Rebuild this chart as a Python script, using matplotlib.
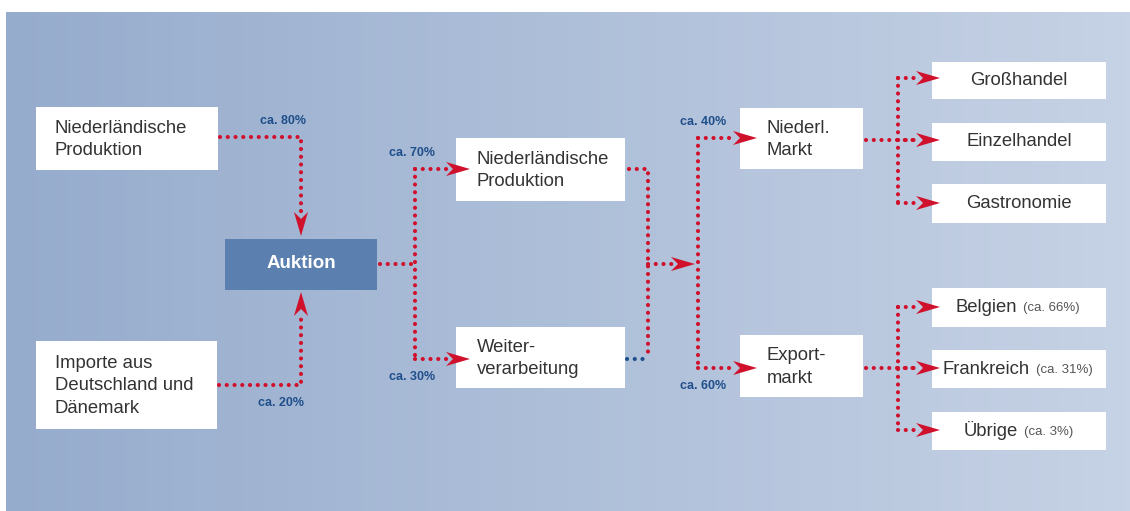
import numpy as np
import matplotlib.pyplot as plt
from matplotlib.patches import Rectangle, Polygon

# node texts
left_nodes = ["Niederländische\nProduktion", "Importe aus\nDeutschland und\nDänemark"]
hub_label = "Auktion"
mid_nodes = ["Niederländische\nProduktion", "Weiter-\nverarbeitung"]
market_nodes = ["Niederl.\nMarkt", "Export-\nmarkt"]
domestic_nodes = ["Großhandel", "Einzelhandel", "Gastronomie"]
export_nodes = ["Belgien", "Frankreich", "Übrige"]
export_shares = ["(ca. 66%)", "(ca. 31%)", "(ca. 3%)"]
left_shares = ["ca. 80%", "ca. 20%"]
mid_shares = ["ca. 70%", "ca. 30%"]
market_shares = ["ca. 40%", "ca. 60%"]

RED = "#d0112b"
BLUE = "#1f4f8a"
TXT = "#333333"

W, H = 1130, 511
fig = plt.figure(figsize=(W / 100, H / 100), dpi=100)
ax = fig.add_axes([0, 0, 1, 1])
ax.set_xlim(0, W)
ax.set_ylim(H, 0)
ax.axis("off")

# background gradient panel
c0 = np.array([150, 172, 205]) / 255
c1 = np.array([198, 210, 229]) / 255
t = np.linspace(0, 1, 256)
grad = c0[None, :] * (1 - t[:, None]) + c1[None, :] * t[:, None]
ax.imshow(grad[None, :, :], extent=[6, W, H, 12], aspect="auto", zorder=0)

FONT = "Liberation Sans"


def box(x0, y0, x1, y1, fc="white"):
    ax.add_patch(Rectangle((x0, y0), x1 - x0, y1 - y0, fc=fc, ec="none", zorder=2))


def dots(xs, ys, color=RED):
    ax.plot(xs, ys, color=color, lw=3.0, linestyle=(0, (0.01, 1.85)),
            dash_capstyle="round", solid_capstyle="round", zorder=3)


def arrow(x, y, d):
    # dart-shaped head, tip at (x, y), direction d
    L, w, n = 24, 7, 17
    dx, dy = d
    px, py = -dy, dx
    pts = [(x, y),
           (x - dx * L + px * w, y - dy * L + py * w),
           (x - dx * n, y - dy * n),
           (x - dx * L - px * w, y - dy * L - py * w)]
    ax.add_patch(Polygon(pts, closed=True, fc=RED, ec="none", zorder=4))


def share(x, y, s, ha="left"):
    ax.text(x, y, s, color=BLUE, fontsize=9, fontweight="bold", family=FONT,
            ha=ha, va="center", zorder=5)


def label(x, y, s, ha="left", size=13.3):
    ax.text(x, y, s, color=TXT, fontsize=size, family=FONT, ha=ha, va="center",
            linespacing=1.45, zorder=5)


# left column
left_boxes = [(36, 107, 218, 170), (36, 341, 217, 429)]
for (x0, y0, x1, y1), s in zip(left_boxes, left_nodes):
    box(x0, y0, x1, y1)
    label(55, (y0 + y1) / 2 + 1, s)

# hub
box(225, 239, 377, 290, fc="#5b7fae")
ax.text(301, 263, hub_label, color="white", fontsize=13.5, fontweight="bold",
        family=FONT, ha="center", va="center", zorder=5)

dots([220, 301, 301], [137, 137, 214])
arrow(301, 236, (0, 1))
dots([219, 301, 301], [385, 385, 314])
arrow(301, 292, (0, -1))
share(306, 121, left_shares[0], ha="right")
share(304, 403, left_shares[1], ha="right")

# middle column
mid_boxes = [(456, 138, 625, 201), (456, 327, 625, 388)]
for (x0, y0, x1, y1), s in zip(mid_boxes, mid_nodes):
    box(x0, y0, x1, y1)
    label(477, (y0 + y1) / 2 + 1, s)

dots([380, 415], [264, 264])
dots([415, 415], [169, 359])
dots([415, 448], [169, 169])
dots([415, 448], [359, 359])
arrow(470, 169, (1, 0))
arrow(470, 359, (1, 0))
share(389, 153, mid_shares[0])
share(389, 377, mid_shares[1])

dots([629, 648, 648], [169, 169, 359])
dots([627, 644], [359, 359], color=BLUE)
dots([648, 672], [264, 264])
arrow(695, 264, (1, 0))

# markets
market_boxes = [(740, 108, 863, 169), (740, 335, 863, 397)]
for (x0, y0, x1, y1), s in zip(market_boxes, market_nodes):
    box(x0, y0, x1, y1)
    label(767, (y0 + y1) / 2 + 1, s)

dots([698, 698], [138, 368])
dots([698, 734], [138, 138])
dots([698, 734], [368, 368])
arrow(757, 138, (1, 0))
arrow(757, 368, (1, 0))
share(726, 122, market_shares[0], ha="right")
share(726, 386, market_shares[1], ha="right")

# domestic outlets
dom_y = [78, 140, 203]
dom_boxes = [(932, 62, 1106, 99), (932, 123, 1106, 161), (932, 184, 1106, 223)]
dots([866, 918], [140, 140])
dots([898, 898], [dom_y[0], dom_y[-1]])
for (x0, y0, x1, y1), yy, s in zip(dom_boxes, dom_y, domestic_nodes):
    box(x0, y0, x1, y1)
    dots([898, 918], [yy, yy])
    arrow(940, yy, (1, 0))
    label(1019, (y0 + y1) / 2, s, ha="center")

# export destinations
exp_y = [307, 368, 430]
exp_boxes = [(932, 288, 1106, 327), (932, 350, 1106, 388), (932, 412, 1106, 450)]
exp_split = [1017, 1030, 1018]
dots([866, 918], [368, 368])
dots([898, 898], [exp_y[0], exp_y[-1]])
for (x0, y0, x1, y1), yy, s, p, xs in zip(exp_boxes, exp_y, export_nodes,
                                          export_shares, exp_split):
    box(x0, y0, x1, y1)
    dots([898, 918], [yy, yy])
    arrow(940, yy, (1, 0))
    cy = (y0 + y1) / 2
    label(xs, cy, s, ha="right")
    ax.text(xs + 6, cy + 1, p, color="#555555", fontsize=9.5, family=FONT,
            ha="left", va="center", zorder=5)

fig.savefig("out.png", dpi=100)
